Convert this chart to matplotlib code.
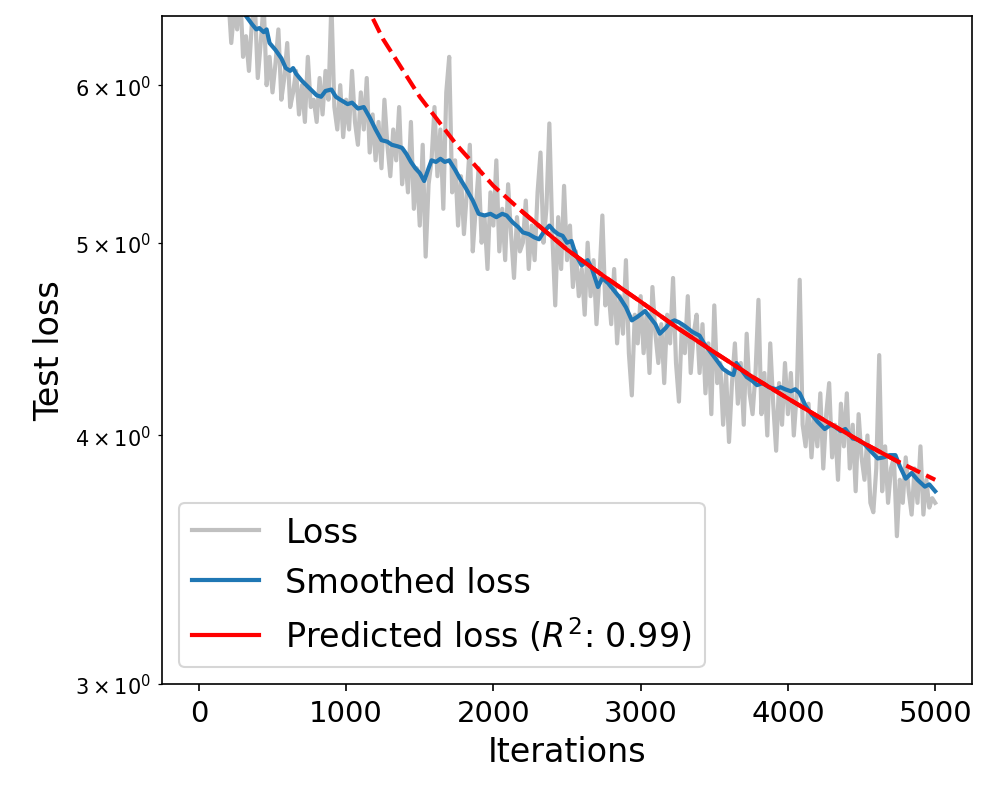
import matplotlib.pyplot as plt

# Raw test loss, one value every 20 iterations (0 .. 5000).
loss_iters = list(range(0, 5001, 20))
loss = [
    8.6, 8.3, 8.1, 7.7, 7.9, 7.5, 7.3, 7.4, 7.0, 6.9,
    6.65, 6.3, 6.55, 6.4, 6.7, 6.2, 6.35, 6.1, 6.45, 6.6,
    6.05, 6.3, 6.6, 6.0, 6.2, 5.95, 6.15, 6.4, 5.9, 6.05,
    6.3, 5.85, 5.95, 6.1, 5.8, 6.0, 5.75, 6.2, 5.85, 5.9,
    5.75, 6.05, 5.8, 6.1, 5.9, 6.6, 5.85, 5.7, 6.0, 5.65,
    5.9, 5.7, 6.1, 5.75, 5.6, 5.95, 5.7, 6.05, 5.55, 5.8,
    5.5, 5.75, 5.45, 5.9, 5.6, 5.4, 5.7, 5.5, 5.85, 5.35,
    5.55, 5.3, 5.75, 5.2, 5.45, 5.1, 5.6, 4.92, 5.35, 5.5,
    5.85, 5.4, 5.7, 5.2, 5.95, 6.2, 5.3, 5.5, 5.1, 5.4,
    5.05, 5.3, 5.6, 4.95, 5.2, 5.45, 5.0, 5.15, 4.85, 5.3,
    5.1, 5.5, 4.95, 5.2, 4.9, 5.35, 5.05, 4.8, 5.15, 4.95,
    5.0, 5.25, 4.85, 5.1, 4.9, 5.3, 5.55, 5.0, 5.2, 5.74,
    5.05, 4.65, 5.15, 4.85, 5.34, 4.9, 5.1, 4.75, 4.95, 4.7,
    4.85, 4.6, 5.0, 4.7, 4.9, 4.55, 4.8, 5.16, 4.65, 4.75,
    4.55, 4.85, 4.45, 4.7, 4.5, 4.9, 4.4, 4.19, 4.6, 4.45,
    4.7, 4.4, 4.6, 4.3, 4.75, 4.5, 4.35, 4.55, 4.25, 4.6,
    4.45, 4.8, 4.35, 4.16, 4.55, 4.4, 4.7, 4.3, 4.5, 4.6,
    4.3, 4.55, 4.2, 4.45, 4.1, 4.65, 4.25, 4.35, 4.05, 4.3,
    3.97, 4.25, 4.45, 4.15, 4.35, 4.05, 4.5, 4.2, 4.1, 4.3,
    4.68, 4.1, 4.3, 4.0, 4.45, 4.15, 3.93, 4.25, 4.05, 4.35,
    4.1, 4.3, 4.0, 4.2, 4.79, 4.05, 3.95, 4.15, 3.9, 4.1,
    3.95, 4.2, 3.85, 4.1, 4.25, 3.9, 4.05, 3.8, 4.15, 3.95,
    4.2, 3.85, 4.05, 3.75, 4.1, 3.9, 3.8, 4.0, 3.7, 3.66,
    3.85, 4.39, 3.75, 3.95, 3.7, 3.85, 3.9, 3.56, 3.8, 3.7,
    3.9, 3.75, 3.65, 3.85, 3.7, 3.95, 3.65, 3.8, 3.68, 3.72,
    3.7,
]

# Smoothed loss.
smooth_iters = [
    0, 100, 200, 280, 320, 360, 390, 410, 440, 460, 480, 520, 560, 590,
    620, 640, 660, 700, 740, 780, 800, 830, 860, 900, 930, 960, 1010, 1040,
    1080, 1120, 1160, 1200, 1240, 1280, 1310, 1350, 1380, 1410, 1440, 1470,
    1500, 1530, 1560, 1580, 1610, 1640, 1670, 1700, 1740, 1770, 1810, 1860,
    1900, 1940, 1980, 2020, 2060, 2090, 2130, 2170, 2200, 2240, 2280, 2310,
    2340, 2380, 2410, 2440, 2470, 2500, 2530, 2560, 2600, 2640, 2670, 2710,
    2740, 2780, 2820, 2860, 2900, 2940, 2980, 3030, 3060, 3100, 3130, 3170,
    3200, 3230, 3260, 3300, 3350, 3400, 3430, 3470, 3510, 3560, 3600, 3630,
    3650, 3680, 3720, 3760, 3790, 3830, 3870, 3920, 3950, 3980, 4020, 4050,
    4080, 4120, 4160, 4200, 4250, 4290, 4320, 4360, 4390, 4440, 4480, 4520,
    4560, 4610, 4650, 4690, 4730, 4760, 4800, 4840, 4880, 4930, 4960, 5000,
]
smooth_loss = [
    8.5, 7.6, 7.0, 6.62, 6.5, 6.44, 6.40, 6.41, 6.38, 6.40, 6.30, 6.25,
    6.19, 6.12, 6.10, 6.12, 6.08, 6.03, 5.99, 5.95, 5.93, 5.92, 5.96, 5.97,
    5.92, 5.90, 5.87, 5.88, 5.84, 5.85, 5.78, 5.70, 5.63, 5.62, 5.60, 5.59,
    5.58, 5.54, 5.49, 5.45, 5.42, 5.37, 5.45, 5.50, 5.49, 5.51, 5.49, 5.50,
    5.44, 5.39, 5.33, 5.25, 5.17, 5.16, 5.17, 5.15, 5.17, 5.16, 5.12, 5.09,
    5.06, 5.05, 5.03, 5.02, 5.06, 5.10, 5.07, 5.05, 5.04, 5.00, 5.01, 4.93,
    4.87, 4.90, 4.85, 4.75, 4.80, 4.77, 4.73, 4.69, 4.64, 4.57, 4.59, 4.62,
    4.59, 4.55, 4.50, 4.53, 4.56, 4.57, 4.56, 4.54, 4.51, 4.49, 4.45, 4.41,
    4.37, 4.32, 4.30, 4.29, 4.35, 4.32, 4.28, 4.26, 4.24, 4.25, 4.23, 4.22,
    4.23, 4.22, 4.21, 4.22, 4.20, 4.14, 4.10, 4.065, 4.03, 4.05, 4.04, 4.02,
    4.03, 3.986, 3.98, 3.96, 3.93, 3.895, 3.90, 3.91, 3.91, 3.86, 3.805,
    3.83, 3.80, 3.77, 3.78, 3.75,
]

# Fitted power-law prediction, sampled from the red curve.
pred_iters = [1000, 1250, 1500, 1750, 2000, 2200, 2500, 2750, 3000, 3250,
              3500, 3750, 4000, 4250, 4500, 4750, 5000]
pred_loss = [6.9, 6.33, 5.92, 5.60, 5.34, 5.18, 4.96, 4.81, 4.67, 4.53,
             4.405, 4.285, 4.175, 4.07, 3.97, 3.88, 3.80]
fit_start, fit_end = 2200, 4750
r2 = 0.99

fit_iters = [i for i in pred_iters if fit_start <= i <= fit_end]
fit_loss = [v for i, v in zip(pred_iters, pred_loss) if fit_start <= i <= fit_end]

fig, ax = plt.subplots(figsize=(6.64, 5.313), dpi=150)
fig.subplots_adjust(left=0.1627, right=0.9759, top=0.9787, bottom=0.1405)

ax.plot(loss_iters, loss, c='silver', lw=2, label='Loss')
ax.plot(smooth_iters, smooth_loss, c='tab:blue', lw=2, label='Smoothed loss')
ax.plot(pred_iters, pred_loss, c='red', ls='--', lw=2)
ax.plot(fit_iters, fit_loss, c='red', lw=2,
        label=f'Predicted loss ($R^2$: {r2:.2f})')

ax.set_yscale('log')
ax.set_ylim(3, 6.5)
ax.set_xlabel('Iterations', fontsize=16)
ax.set_ylabel('Test loss', fontsize=16)
plt.xticks(fontsize=14)
ax.legend(loc='lower left', fontsize=16)

fig.savefig('out.png')
